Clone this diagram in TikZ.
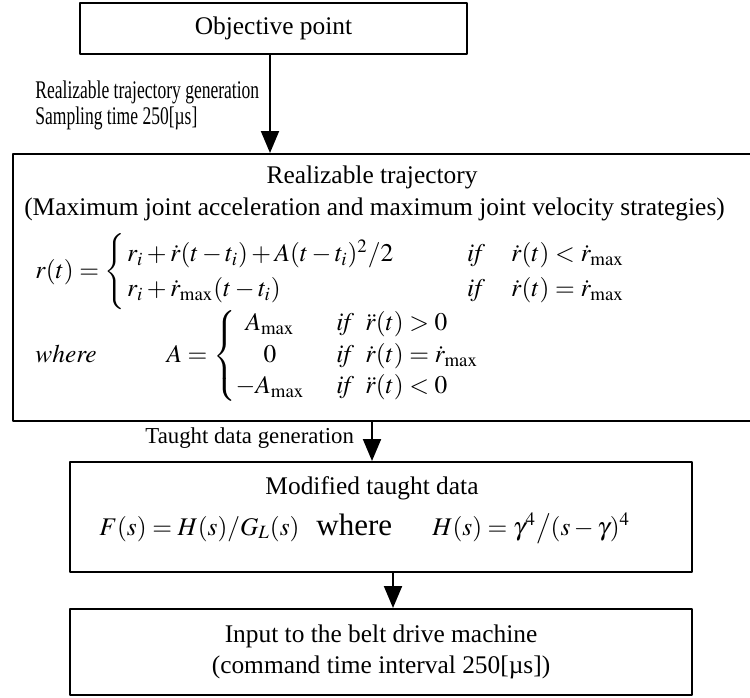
\documentclass[tikz,border=0pt]{standalone}
\usepackage{amsmath}
\usepackage{mathptmx}
\usepackage{fontspec}
\setmainfont{Liberation Serif}
\newfontfamily\narrowserif[FakeStretch=0.69]{Liberation Serif}
\usepackage{tikz}
\usetikzlibrary{arrows.meta}

\begin{document}
\begin{tikzpicture}[x=0.5pt, y=-0.5pt, line join=bevel,
  >={Triangle[length=11pt,width=9pt]},
  font=\fontsize{12.7pt}{15.5pt}\selectfont,
  flowbox/.style={draw, line width=1pt, rectangle, inner sep=0pt},
  mathtext/.style={inner sep=0pt},
  flowline/.style={->, line width=1pt}]
\useasboundingbox (0,0) rectangle (750,697);
%%
\node (obj_point) at (273.5,28.5)
  [flowbox, minimum width=193.5pt, minimum height=25.5pt] {Objective point};
\node (real_traj) at (382,287.5)
  [flowbox, minimum width=369pt, minimum height=133.5pt] {};
\node (mod_data) at (381,517)
  [flowbox, minimum width=311pt, minimum height=55pt] {};
\node (belt_input) at (381,652)
  [flowbox, minimum width=311pt, minimum height=43pt, align=center]
  {Input to the belt drive machine\\(command time interval 250[µs])};

%% trajectory box
\node (traj_title) at (372,177) {Realizable trajectory};
\node (traj_strategy) at (374.5,209) [mathtext]
  {(Maximum joint acceleration and maximum joint velocity strategies)};
\node (traj_eq) at (35,272) [mathtext, anchor=west]
  {$\renewcommand{\arraystretch}{1.13}%
   r(t)=\left\{\begin{array}{@{\hspace{1pt}}l@{}l@{}l@{}}
   \makebox[170pt][l]{$r_i+\dot r(t-t_i)+A(t-t_i)^2/2$} &
   \makebox[22pt][l]{$\mathit{if}$} & \dot r(t)<\dot r_{\max}\\
   \makebox[170pt][l]{$r_i+\dot r_{\max}(t-t_i)$} &
   \makebox[22pt][l]{$\mathit{if}$} & \dot r(t)=\dot r_{\max}
   \end{array}\right.$};
\node (acc_eq) at (35,356) [mathtext, anchor=west]
  {$\renewcommand{\arraystretch}{1.02}%
   \mathit{where}\hspace{35pt}A=\left\{\begin{array}{@{}c@{\hspace{16pt}}l@{}}
   A_{\max} & \mathit{if}\;\;\ddot r(t)>0\\
   0 & \mathit{if}\;\;\dot r(t)=\dot r_{\max}\\
   -A_{\max} & \mathit{if}\;\;\ddot r(t)<0
   \end{array}\right.$};

%% taught data box
\node (mod_title) at (372,488) {Modified taught data};
\node (mod_eq) at (99,535) [mathtext, anchor=base west] {$F(s)=H(s)/G_L(s)$};
\node (mod_where) at (316,535) [mathtext, anchor=base west, font=\fontsize{15.5pt}{18pt}\selectfont] {where};
\node (mod_filter) at (432,535) [mathtext, anchor=base west]
  {$H(s)=\gamma^4\big/(s-\gamma)^4$};

%% arrow labels
\node (gen_note) at (35,105)
  [mathtext, anchor=west, align=left, font=\fontsize{12.7pt}{13pt}\narrowserif]
  {Realizable trajectory generation\\Sampling time 250[µs]};
\node (taught_note) at (145,438)
  [mathtext, anchor=west, font=\fontsize{11.4pt}{13pt}\selectfont]
  {Taught data generation};

\draw [flowline] (obj_point.south -| 270,0) -- (real_traj.north -| 270,0);
\draw [flowline] (real_traj.south -| 372,0) -- (mod_data.north -| 372,0);
\draw [flowline] (mod_data.south -| 393,0) -- (belt_input.north -| 393,0);
\end{tikzpicture}
\end{document}
